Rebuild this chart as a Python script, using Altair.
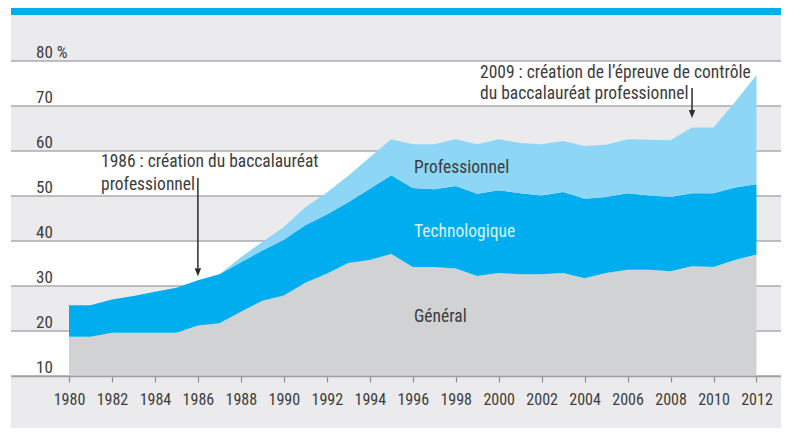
import altair as alt
import pandas as pd

# ---------------- data ----------------
years = list(range(1980, 2013))
general = [18.7, 18.7, 19.6, 19.6, 19.6, 19.6, 21.2, 21.7, 24.3, 26.7, 27.9,
           30.7, 32.7, 35.1, 35.8, 37.1, 34.2, 34.2, 33.9, 32.2, 32.9, 32.6,
           32.6, 32.9, 31.7, 32.9, 33.6, 33.6, 33.3, 34.4, 34.2, 35.8, 37.0]
technologique = [7.0, 7.0, 7.4, 8.2, 9.1, 10.0, 10.1, 10.9, 11.0, 11.2, 12.4,
                 12.8, 13.2, 13.5, 15.8, 17.5, 17.6, 17.3, 18.3, 18.3, 18.4, 18.0,
                 17.5, 18.0, 17.7, 16.9, 17.0, 16.5, 16.5, 16.2, 16.4, 16.1, 15.6]
professionnel = [0, 0, 0, 0, 0, 0, 0, 0, 1.1, 1.9, 2.8,
                 4.0, 4.9, 5.9, 7.0, 8.0, 9.7, 10.0, 10.4, 11.0, 11.3, 11.2,
                 11.4, 11.3, 11.7, 11.6, 12.0, 12.4, 12.6, 14.6, 14.6, 19.0, 24.3]
series_names = ["Général", "Technologique", "Professionnel"]
series_colors = ["#d1d2d4", "#00aeef", "#8ed6f6"]

x_tick_values = list(range(1980, 2013, 2))
y_grid_values = [10, 20, 30, 40, 50, 60, 70, 80]
y_labels = ["10", "20", "30", "40", "50", "60", "70", "80 %"]
band_low = [10, 30, 50, 70]
band_high = [20, 40, 60, 80]

series_label_text = ["Professionnel", "Technologique", "Général"]
series_label_year = [1996.06, 1996.06, 1996.06]
series_label_value = [55.15, 40.9, 21.9]
series_label_color = ["#3c3c3e", "#d8f2fc", "#3c3c3e"]

note_text = ["1986 : création du baccalauréat", "professionnel",
             "2009 : création de l’épreuve de contrôle", "du baccalauréat professionnel"]
note_year = [1981.49, 1981.49, 1999.13, 1999.13]
note_value = [56.5, 51.4, 76.3, 71.5]

arrow_year = [1986, 2009]
arrow_from = [54.0, 74.0]
arrow_to = [34.0, 68.9]
arrow_head = [33.05, 68.2]

# ---------------- tables ----------------
rows = []
for i, yr in enumerate(years):
    for k, (name, vals) in enumerate(zip(series_names, [general, technologique, professionnel])):
        rows.append({"annee": yr, "serie": name, "ordre": k, "part": vals[i]})
df = pd.DataFrame(rows)

bands = pd.DataFrame({"lo": band_low, "hi": band_high})
grid = pd.DataFrame({"v": y_grid_values, "lab": y_labels})
slabels = pd.DataFrame({"t": series_label_text, "x": series_label_year,
                        "y": series_label_value, "c": series_label_color})
notes = pd.DataFrame({"t": note_text, "x": note_year, "y": note_value})
arrows = pd.DataFrame({"x": arrow_year, "y1": arrow_from, "y2": arrow_to, "h": arrow_head})
dummy = pd.DataFrame({"a": [0]})

# ---------------- layout ----------------
W, H = 770, 315
PX_PER_YEAR = 21.484
x0 = 1980 - 58 / PX_PER_YEAR
xs = alt.Scale(domain=[x0, x0 + W / PX_PER_YEAR], nice=False, zero=False)
ys = alt.Scale(domain=[10, 80], nice=False, zero=False)

FONT = "Liberation Sans Narrow, Roboto Condensed, Roboto, sans-serif"
TXT = "#3c3c3e"
FS = 17.5
AFS = 16
YFS = 17

x_axis = alt.Axis(values=x_tick_values, format="d", grid=False, title=None,
                  domainColor="#9c9ea1", domainWidth=1.5,
                  tickColor="#8f9194", tickSize=6, tickWidth=1.2,
                  labelFont=FONT, labelFontSize=AFS, labelColor=TXT,
                  labelPadding=9, labelFlush=False, labelOverlap=False,
                  zindex=1)


def X(field):
    return alt.X(field, scale=xs, axis=x_axis, title=None)


bg = alt.Chart(dummy).mark_rect(color="#ebebed").encode(
    x=alt.value(0), x2=alt.value(W), y=alt.value(-46), y2=alt.value(H + 52))
topbar = alt.Chart(dummy).mark_rect(color="#00aeef").encode(
    x=alt.value(0), x2=alt.value(W), y=alt.value(-53), y2=alt.value(-46))

band_layer = alt.Chart(bands).mark_rect(color="#ffffff").encode(
    x=alt.value(0), x2=alt.value(W),
    y=alt.Y("lo:Q", scale=ys, axis=None), y2="hi:Q")

grid_layer = alt.Chart(grid).mark_rule(color="#a9abae", strokeWidth=1.5).encode(
    x=alt.value(0), x2=alt.value(W),
    y=alt.Y("v:Q", scale=ys, axis=None))

ylab_layer = alt.Chart(grid).mark_text(
    align="left", baseline="alphabetic", dy=-3, font=FONT, fontSize=YFS, color=TXT
).encode(x=alt.value(25), y=alt.Y("v:Q", scale=ys, axis=None), text="lab:N")

areas = alt.Chart(df).mark_area(clip=True, interpolate="linear").encode(
    x=X("annee:Q"),
    y=alt.Y("part:Q", stack="zero", scale=ys, axis=None),
    color=alt.Color("serie:N", scale=alt.Scale(domain=series_names, range=series_colors), legend=None),
    order=alt.Order("ordre:Q", sort="ascending"),
)

slabel_layer = alt.Chart(slabels).mark_text(
    align="left", baseline="alphabetic", font=FONT, fontSize=FS
).encode(
    x=X("x:Q"),
    y=alt.Y("y:Q", scale=ys, axis=None),
    text="t:N",
    color=alt.Color("c:N", scale=None, legend=None),
)

note_layer = alt.Chart(notes).mark_text(
    align="left", baseline="alphabetic", font=FONT, fontSize=FS, color=TXT
).encode(
    x=X("x:Q"),
    y=alt.Y("y:Q", scale=ys, axis=None),
    text="t:N",
)

arrow_lines = alt.Chart(arrows).mark_rule(color="#2b2b2d", strokeWidth=1.5).encode(
    x=X("x:Q"),
    y=alt.Y("y1:Q", scale=ys, axis=None), y2="y2:Q")

arrow_heads = alt.Chart(arrows).mark_point(
    shape="M-0.8,-1L0.8,-1L0,1Z", size=64, filled=True, color="#2b2b2d", opacity=1
).encode(
    x=X("x:Q"),
    y=alt.Y("h:Q", scale=ys, axis=None))

chart = alt.layer(
    bg, topbar, band_layer, grid_layer, ylab_layer, areas,
    slabel_layer, note_layer, arrow_lines, arrow_heads
).properties(
    width=W, height=H,
    autosize=alt.AutoSizeParams(type="none"),
    padding={"left": 3, "top": 53, "right": 0, "bottom": 52},
    background="#ffffff",
).configure_view(stroke=None)

chart.save("out.html", embed_options={"renderer": "svg", "actions": False})
